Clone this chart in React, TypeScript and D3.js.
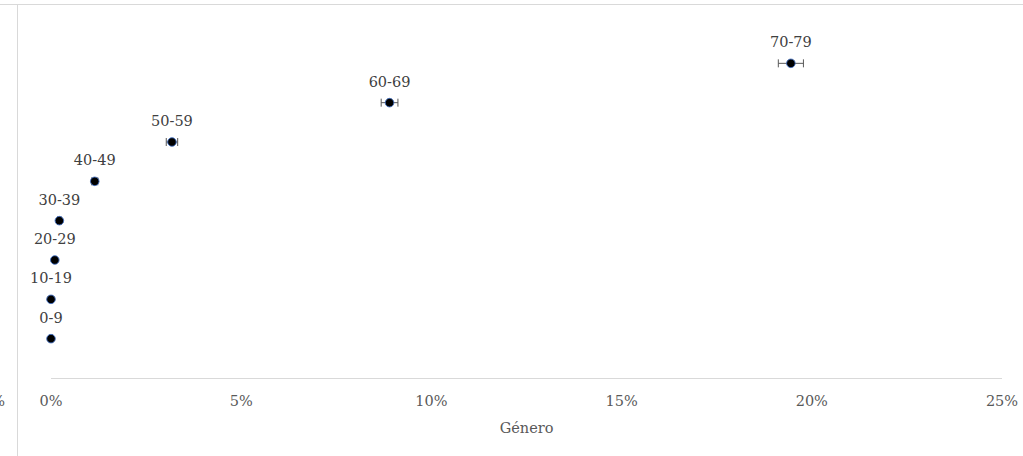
import React from "react";
import * as d3 from "d3";

const categories = ["0-9", "10-19", "20-29", "30-39", "40-49", "50-59", "60-69", "70-79"];
const values = [0.0, 0.0, 0.001, 0.0022, 0.0115, 0.0318, 0.089, 0.1945];
const errors = [0.0003, 0.0003, 0.0004, 0.0005, 0.0008, 0.0015, 0.0022, 0.0033];
const xTicks = [0, 0.05, 0.1, 0.15, 0.2, 0.25];

const W = 1023;
const H = 456;
const font = "'DejaVu Serif', serif";

export default function App() {
  const x = d3.scaleLinear().domain([0, 0.25]).range([51, 1002]);
  const y = d3.scaleLinear().domain([0, 9]).range([378, 24]);
  const fmt = d3.format(".0%");
  return (
    <svg width={W} height={H} style={{ position: "absolute", left: 0, top: 0, background: "#fff" }}>
      <line x1={0} x2={W} y1={4.5} y2={4.5} stroke="#d9d9d9" strokeWidth={1} />
      <line x1={17.5} x2={17.5} y1={4} y2={H} stroke="#d9d9d9" strokeWidth={1} />
      <text x={5} y={406} textAnchor="end" fontFamily={font} fontSize={14.5} fill="#595959">25%</text>
      <line x1={x(0)} x2={x(0.25)} y1={378.5} y2={378.5} stroke="#d9d9d9" strokeWidth={1} />
      {xTicks.map((t) => (
        <text key={t} x={x(t)} y={406} textAnchor="middle" fontFamily={font} fontSize={14.5} fill="#595959">
          {fmt(t)}
        </text>
      ))}
      <text x={(x(0) + x(0.25)) / 2} y={433} textAnchor="middle" fontFamily={font} fontSize={14.5} fill="#595959">
        Género
      </text>
      {categories.map((c, i) => {
        const cx = x(values[i]);
        const cy = y(i + 1);
        const x0 = x(Math.max(0, values[i] - errors[i]));
        const x1 = x(values[i] + errors[i]);
        return (
          <g key={c}>
            <line x1={x0} x2={x1} y1={cy} y2={cy} stroke="#595959" strokeWidth={1} />
            <line x1={x0} x2={x0} y1={cy - 4} y2={cy + 4} stroke="#595959" strokeWidth={1} />
            <line x1={x1} x2={x1} y1={cy - 4} y2={cy + 4} stroke="#595959" strokeWidth={1} />
            <circle cx={cx} cy={cy} r={4.3} fill="#000" stroke="#4472C4" strokeWidth={0.9} />
            <text x={cx} y={cy - 16} textAnchor="middle" fontFamily={font} fontSize={14.5} fill="#404040">
              {c}
            </text>
          </g>
        );
      })}
    </svg>
  );
}
